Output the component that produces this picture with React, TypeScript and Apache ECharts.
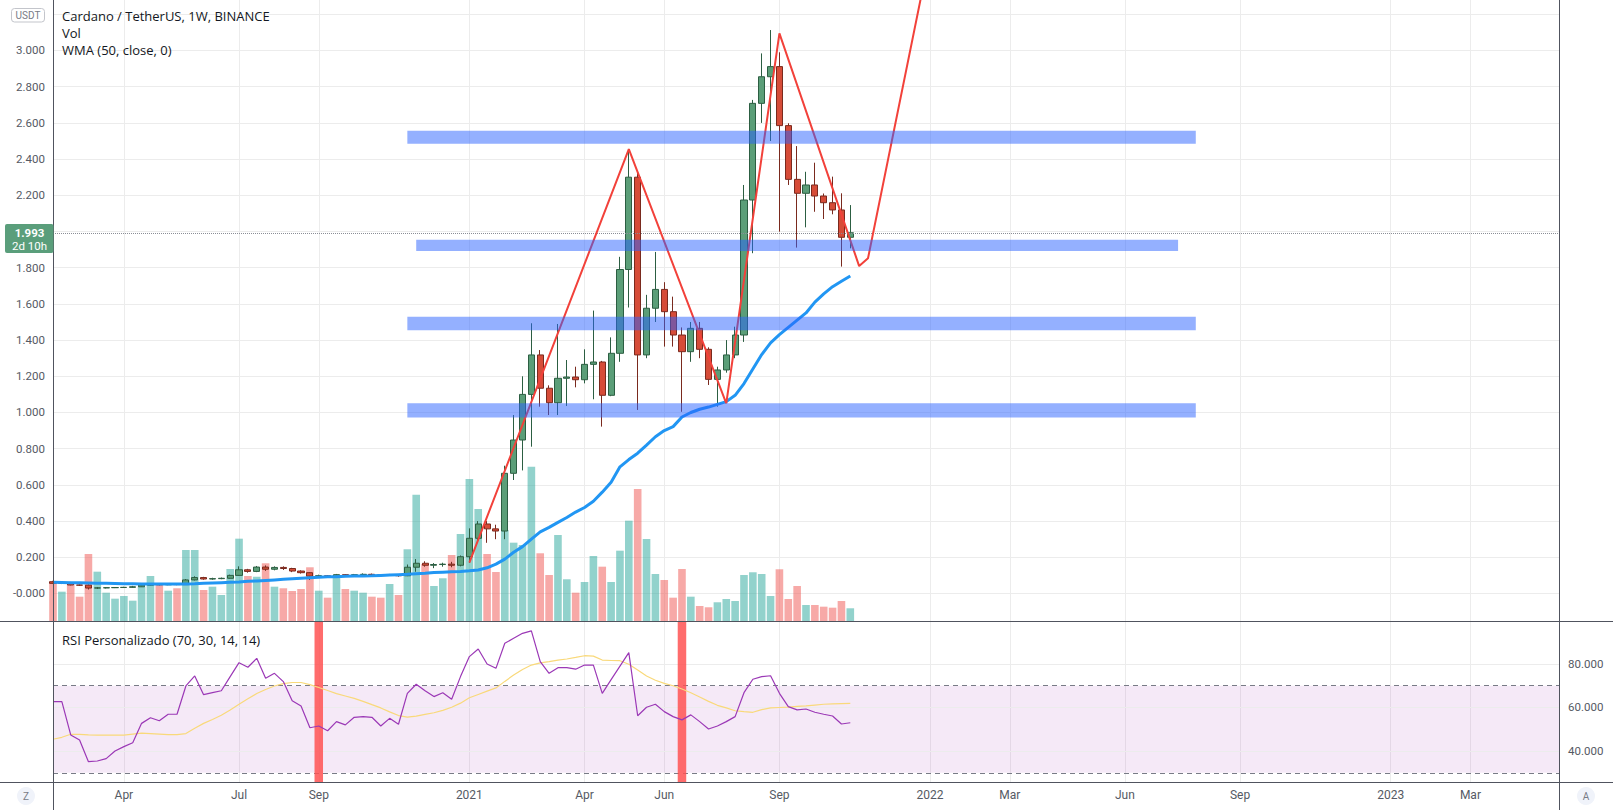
import React, { useEffect, useRef } from 'react';
import * as echarts from 'echarts';

// ---------- categories (weekly bars, Monday opens) ----------
const FIRST_WEEK_UTC = Date.UTC(2020, 1, 10);
const WEEK_COUNT = 171;
const weeks: string[] = [];
for (let i = 0; i < WEEK_COUNT; i++) {
  weeks.push(new Date(FIRST_WEEK_UTC + i * 7 * 86400000).toISOString().slice(0, 10));
}

// ---------- time axis ticks ----------
const timeTickDates = ['2020-04-06', '2020-07-06', '2020-09-07', '2021-01-04', '2021-04-05', '2021-06-07', '2021-09-06', '2022-01-03', '2022-03-07', '2022-06-06', '2022-09-05', '2023-01-02', '2023-03-06'];
const timeTickLabels = ['Apr', 'Jul', 'Sep', '2021', 'Apr', 'Jun', 'Sep', '2022', 'Mar', 'Jun', 'Sep', '2023', 'Mar'];

// ---------- price axis ticks ----------
const priceTicks = [0, 0.2, 0.4, 0.6, 0.8, 1.0, 1.2, 1.4, 1.6, 1.8, 2.0, 2.2, 2.4, 2.6, 2.8, 3.0, 3.2];
const priceTickLabels = ['-0.000', '0.200', '0.400', '0.600', '0.800', '1.000', '1.200', '1.400', '1.600', '1.800', '2.000', '2.200', '2.400', '2.600', '2.800', '3.000', ''];
const PRICE_MIN = -0.152;
const PRICE_MAX = 3.279;

// ---------- RSI axis ticks ----------
const rsiTicks = [40, 60, 80];
const rsiTickLabels = ['40.000', '60.000', '80.000'];
const rsiLevels = [70, 30];
const RSI_MIN = 25.75;
const RSI_MAX = 99.3;

// ---------- candles: [open, close, low, high] ----------
const ohlc: number[][] = [
  [0.065, 0.056, 0.054, 0.070], [0.056, 0.058, 0.052, 0.062], [0.060, 0.047, 0.045, 0.064], [0.047, 0.046, 0.042, 0.050],
  [0.046, 0.030, 0.022, 0.050], [0.030, 0.031, 0.025, 0.036], [0.031, 0.032, 0.028, 0.035], [0.032, 0.033, 0.030, 0.035],
  [0.033, 0.034, 0.031, 0.037], [0.034, 0.037, 0.032, 0.042], [0.037, 0.046, 0.036, 0.049], [0.046, 0.050, 0.044, 0.053],
  [0.050, 0.048, 0.045, 0.054], [0.048, 0.050, 0.046, 0.053], [0.050, 0.049, 0.046, 0.053], [0.049, 0.075, 0.048, 0.080],
  [0.075, 0.088, 0.072, 0.095], [0.088, 0.080, 0.076, 0.092], [0.080, 0.082, 0.076, 0.087], [0.082, 0.084, 0.079, 0.088],
  [0.084, 0.100, 0.082, 0.104], [0.100, 0.131, 0.098, 0.150], [0.131, 0.122, 0.115, 0.136], [0.122, 0.146, 0.118, 0.152],
  [0.146, 0.134, 0.125, 0.155], [0.134, 0.144, 0.128, 0.150], [0.144, 0.138, 0.130, 0.150], [0.138, 0.124, 0.118, 0.142],
  [0.124, 0.115, 0.110, 0.128], [0.115, 0.096, 0.075, 0.117], [0.096, 0.098, 0.085, 0.104], [0.098, 0.092, 0.088, 0.102],
  [0.092, 0.104, 0.090, 0.108], [0.104, 0.099, 0.094, 0.107], [0.099, 0.104, 0.097, 0.108], [0.104, 0.106, 0.100, 0.111],
  [0.106, 0.103, 0.099, 0.110], [0.103, 0.100, 0.094, 0.106], [0.100, 0.103, 0.097, 0.108], [0.103, 0.098, 0.093, 0.106],
  [0.098, 0.145, 0.096, 0.160], [0.145, 0.167, 0.120, 0.190], [0.167, 0.156, 0.148, 0.178], [0.156, 0.160, 0.140, 0.168],
  [0.160, 0.162, 0.148, 0.170], [0.162, 0.156, 0.145, 0.175], [0.156, 0.203, 0.150, 0.210], [0.203, 0.305, 0.170, 0.360],
  [0.305, 0.384, 0.280, 0.400], [0.384, 0.357, 0.280, 0.400], [0.357, 0.345, 0.300, 0.380], [0.345, 0.664, 0.300, 0.706],
  [0.664, 0.848, 0.627, 0.986], [0.848, 1.100, 0.680, 1.200], [1.100, 1.318, 0.811, 1.493], [1.318, 1.134, 1.032, 1.345],
  [1.134, 1.054, 0.986, 1.150], [1.054, 1.189, 0.986, 1.489], [1.189, 1.196, 1.036, 1.290], [1.196, 1.181, 1.139, 1.253],
  [1.181, 1.266, 1.161, 1.349], [1.266, 1.279, 1.073, 1.563], [1.279, 1.095, 0.922, 1.285], [1.095, 1.327, 1.090, 1.415],
  [1.327, 1.790, 1.280, 1.860], [1.790, 2.300, 1.580, 2.456], [2.300, 1.318, 1.014, 2.330], [1.318, 1.576, 1.300, 1.650],
  [1.576, 1.680, 1.500, 1.887], [1.680, 1.557, 1.364, 1.720], [1.557, 1.428, 1.364, 1.640], [1.428, 1.336, 1.004, 1.470],
  [1.336, 1.465, 1.280, 1.500], [1.465, 1.349, 1.300, 1.500], [1.349, 1.183, 1.152, 1.360], [1.183, 1.235, 1.032, 1.253],
  [1.235, 1.318, 1.220, 1.400], [1.318, 1.428, 1.300, 1.474], [1.428, 2.174, 1.390, 2.257], [2.174, 2.708, 1.880, 2.727],
  [2.708, 2.855, 2.600, 2.984], [2.855, 2.911, 2.500, 3.113], [2.911, 2.585, 1.999, 2.990], [2.585, 2.288, 2.257, 2.598],
  [2.288, 2.211, 1.911, 2.472], [2.211, 2.257, 2.023, 2.330], [2.257, 2.196, 2.109, 2.380], [2.196, 2.159, 2.069, 2.210],
  [2.159, 2.119, 2.095, 2.303], [2.119, 1.968, 1.806, 2.211], [1.968, 1.993, 1.907, 2.146],
];
const LAST_PRICE = 1.993;

// ---------- volume (millions) ----------
const volumes = [
  983, 733, 943, 608, 1675, 1233, 708, 558, 625, 508,
  858, 1125, 943, 758, 818, 1775, 1775, 775, 858, 650,
  1300, 2058, 1125, 1108, 1443, 858, 818, 750, 800, 1343,
  758, 583, 1150, 800, 758, 708, 608, 583, 925, 650,
  1793, 3155, 1425, 875, 1068, 1650, 2175, 3550, 2800, 1675,
  1225, 2275, 1958, 1900, 3858, 1693, 1150, 2150, 1043, 708,
  975, 1625, 1358, 975, 1758, 2508, 3300, 2050, 1175, 1025,
  583, 1300, 608, 375, 343, 468, 550, 500, 1150, 1218,
  1175, 625, 1293, 550, 875, 400, 400, 358, 333, 500,
  318,
];
const VOL_MAX = 15525;

// ---------- WMA(50) ----------
const wma = [
  0.062, 0.061, 0.060, 0.059, 0.058, 0.057, 0.056, 0.055, 0.054, 0.054,
  0.053, 0.053, 0.053, 0.052, 0.052, 0.053, 0.054, 0.056, 0.058, 0.060,
  0.062, 0.064, 0.067, 0.069, 0.072, 0.075, 0.078, 0.081, 0.084, 0.087,
  0.090, 0.092, 0.093, 0.095, 0.096, 0.097, 0.098, 0.100, 0.102, 0.104,
  0.106, 0.109, 0.112, 0.116, 0.118, 0.120, 0.122, 0.125, 0.130, 0.142,
  0.162, 0.190, 0.228, 0.259, 0.300, 0.340, 0.365, 0.393, 0.420, 0.450,
  0.475, 0.510, 0.560, 0.615, 0.700, 0.740, 0.775, 0.820, 0.866, 0.900,
  0.922, 0.975, 1.000, 1.018, 1.030, 1.045, 1.060, 1.095, 1.160, 1.240,
  1.320, 1.385, 1.430, 1.470, 1.510, 1.550, 1.610, 1.655, 1.695, 1.725,
  1.754,
];

// ---------- RSI ----------
const rsi = [
  62.7, 62.7, 47.4, 45.1, 35.1, 35.4, 36.5, 40.0, 42.0, 43.8,
  52.7, 55.3, 53.9, 56.9, 56.9, 69.9, 74.5, 65.9, 66.8, 67.7,
  74.2, 80.6, 78.5, 82.6, 73.4, 75.7, 71.9, 63.1, 60.7, 50.7,
  51.5, 49.3, 53.5, 52.0, 55.5, 55.8, 55.5, 51.5, 55.0, 52.3,
  66.5, 70.7, 67.7, 65.0, 66.8, 63.8, 74.2, 83.4, 86.9, 80.0,
  78.0, 89.5, 91.8, 94.1, 95.2, 81.1, 75.7, 78.3, 78.3, 77.6,
  79.5, 79.5, 66.5, 72.8, 79.0, 85.2, 56.2, 60.1, 61.5, 58.1,
  55.8, 54.3, 56.6, 53.5, 50.1, 51.5, 53.5, 55.8, 66.8, 73.0,
  74.2, 74.6, 66.5, 60.4, 58.9, 59.3, 57.8, 56.9, 56.1, 52.4,
  53.0,
];
const rsiSignal = [
  45.4, 46.3, 47.7, 47.6, 47.4, 47.3, 47.3, 47.3, 47.3, 47.8,
  48.2, 48.0, 47.8, 47.5, 47.5, 48.0, 50.5, 52.7, 54.5, 56.4,
  58.8, 61.5, 64.0, 66.4, 68.3, 69.9, 71.0, 71.5, 71.5, 70.5,
  69.2, 67.8, 66.4, 65.3, 64.2, 62.8, 61.3, 59.8, 58.0, 56.3,
  55.6, 56.0, 56.8, 57.6, 58.7, 60.1, 62.0, 64.5, 66.0, 67.5,
  69.0, 72.0, 74.9, 77.5, 79.5, 80.5, 81.1, 81.8, 82.3, 83.0,
  83.8, 83.6, 81.8, 81.6, 81.5, 79.9, 77.2, 74.5, 72.5, 71.1,
  70.0, 68.5, 66.8, 64.8, 62.8, 61.0, 59.8, 58.5, 58.1, 57.8,
  59.0, 59.8, 60.0, 60.2, 60.5, 60.7, 61.1, 61.5, 61.7, 61.8,
  61.9,
];
const rsiAlertWeeks = [30, 71];

// ---------- drawings ----------
const patternWeeks = [47, 65, 76, 82, 91, 92, 99];
const patternPrices = [0.17, 2.455, 1.05, 3.095, 1.809, 1.852, 3.54];
const zoneFromWeek = [40, 41, 40, 40];
const zoneToWeek = [129, 127, 129, 129];
const zoneLow = [2.485, 1.892, 1.455, 0.972];
const zoneHigh = [2.557, 1.955, 1.529, 1.051];

// ---------- styles ----------
const GRID_COLOR = '#ececec';
const AXIS_TEXT = '#555a64';
const FRAME = '#50535e';
const UP = '#5b9e78';
const UP_BORDER = '#2c5e42';
const DOWN = '#d64c38';
const DOWN_BORDER = '#7a2a1e';
const VOL_UP = 'rgba(38,166,154,0.5)';
const VOL_DOWN = 'rgba(239,83,80,0.5)';
const FONT = 'Roboto, "Open Sans", sans-serif';
const LEGEND_FONT = '"Open Sans", Roboto, sans-serif';

const GRID_LEFT = 53;
const GRID_WIDTH = 1506;

function buildOption() {
  const tickSet = new Set(timeTickDates);
  const isTick = (_i: number, v: string) => tickSet.has(v);
  const labelFor = (v: string) => {
    const k = timeTickDates.indexOf(v);
    return k >= 0 ? timeTickLabels[k] : '';
  };

  const volData = volumes.map((v, i) => ({
    value: v,
    itemStyle: { color: ohlc[i][1] >= ohlc[i][0] ? VOL_UP : VOL_DOWN },
  }));

  const alertData = weeks.map((_, i) => (rsiAlertWeeks.includes(i) ? RSI_MAX : '-'));

  const pattern = patternWeeks.map((w, k) => [weeks[w], patternPrices[k]]);

  const zones = zoneLow.map((lo, k) => [
    { xAxis: weeks[zoneFromWeek[k]], yAxis: zoneHigh[k] },
    { xAxis: weeks[zoneToWeek[k]], yAxis: lo },
  ]);

  const catAxisBase = {
    type: 'category',
    data: weeks,
    boundaryGap: false,
    axisLine: { show: false },
    axisTick: { show: false },
  };

  return {
    animation: false,
    backgroundColor: '#ffffff',
    textStyle: { fontFamily: FONT },
    grid: [
      { left: GRID_LEFT, width: GRID_WIDTH, top: 0, height: 621 },
      { left: GRID_LEFT, width: GRID_WIDTH, top: 622, height: 160 },
      { left: GRID_LEFT, width: GRID_WIDTH, top: 0, height: 621 },
    ],
    xAxis: [
      {
        ...catAxisBase,
        gridIndex: 0,
        axisLabel: { show: false },
        splitLine: { show: true, interval: isTick, lineStyle: { color: GRID_COLOR, width: 1 } },
      },
      {
        ...catAxisBase,
        gridIndex: 1,
        axisLabel: {
          show: true,
          interval: isTick,
          formatter: (v: string) => labelFor(v),
          color: AXIS_TEXT,
          fontSize: 12,
          fontFamily: FONT,
          margin: 7,
        },
        splitLine: { show: true, interval: isTick, lineStyle: { color: GRID_COLOR, width: 1 } },
      },
      { ...catAxisBase, gridIndex: 2, show: false },
    ],
    yAxis: [
      { type: 'value', gridIndex: 0, min: PRICE_MIN, max: PRICE_MAX, show: false },
      { type: 'value', gridIndex: 1, min: RSI_MIN, max: RSI_MAX, show: false },
      { type: 'value', gridIndex: 2, min: 0, max: VOL_MAX, show: false },
    ],
    series: [
      // price gridlines + left labels
      {
        type: 'line',
        xAxisIndex: 0,
        yAxisIndex: 0,
        data: [],
        z: 0,
        silent: true,
        markLine: {
          z: 0,
          silent: true,
          symbol: ['none', 'none'],
          animation: false,
          lineStyle: { color: GRID_COLOR, type: 'solid', width: 1 },
          label: {
            show: true,
            position: 'start',
            distance: 8,
            formatter: (p: any) => p.name,
            color: AXIS_TEXT,
            fontSize: 11.5,
            fontFamily: FONT,
          },
          emphasis: { disabled: true },
          data: priceTicks.map((v, k) => ({ yAxis: v, name: priceTickLabels[k] })),
        },
      },
      // RSI gridlines, levels, band
      {
        type: 'line',
        xAxisIndex: 1,
        yAxisIndex: 1,
        data: [],
        z: 0,
        silent: true,
        markArea: {
          z: 0,
          silent: true,
          itemStyle: { color: 'rgba(156,39,176,0.1)' },
          data: [[{ yAxis: rsiLevels[1] }, { yAxis: rsiLevels[0] }]],
        },
        markLine: {
          z: 1,
          silent: true,
          symbol: ['none', 'none'],
          animation: false,
          lineStyle: { color: GRID_COLOR, type: 'solid', width: 1 },
          label: {
            show: true,
            position: 'end',
            distance: 9,
            formatter: (p: any) => p.name,
            color: AXIS_TEXT,
            fontSize: 11.5,
            fontFamily: FONT,
          },
          emphasis: { disabled: true },
          data: [
            ...rsiTicks.map((v, k) => ({ yAxis: v, name: rsiTickLabels[k] })),
            ...rsiLevels.map((v) => ({
              yAxis: v,
              name: '',
              label: { show: false },
              lineStyle: { color: '#787b86', type: [5, 4], width: 1 },
            })),
          ],
        },
      },
      // volume
      {
        type: 'bar',
        name: 'Vol',
        xAxisIndex: 2,
        yAxisIndex: 2,
        data: volData,
        barWidth: 7.6,
        z: 1,
        silent: true,
      },
      // candles
      {
        type: 'candlestick',
        xAxisIndex: 0,
        yAxisIndex: 0,
        data: ohlc,
        barWidth: 6.6,
        z: 2,
        itemStyle: { color: UP, color0: DOWN, borderColor: UP_BORDER, borderColor0: DOWN_BORDER, borderWidth: 1 },
        markLine: {
          z: 3,
          silent: true,
          symbol: ['none', 'none'],
          animation: false,
          label: { show: false },
          lineStyle: { color: '#8a8d96', type: 'dotted', width: 1 },
          data: [{ yAxis: LAST_PRICE }],
        },
      },
      // WMA
      {
        type: 'line',
        name: 'WMA',
        xAxisIndex: 0,
        yAxisIndex: 0,
        data: wma,
        showSymbol: false,
        z: 3,
        lineStyle: { color: '#2196f3', width: 3 },
        silent: true,
      },
      // red pattern drawing
      {
        type: 'line',
        xAxisIndex: 0,
        yAxisIndex: 0,
        data: pattern,
        showSymbol: false,
        z: 4,
        lineStyle: { color: '#f2413a', width: 2 },
        silent: true,
      },
      // blue zones
      {
        type: 'line',
        xAxisIndex: 0,
        yAxisIndex: 0,
        data: [],
        z: 5,
        silent: true,
        markArea: {
          z: 6,
          silent: true,
          itemStyle: { color: 'rgba(41,98,255,0.5)' },
          data: zones,
        },
      },
      // RSI alert bars
      {
        type: 'bar',
        xAxisIndex: 1,
        yAxisIndex: 1,
        data: alertData,
        barWidth: 8.5,
        z: 2,
        silent: true,
        itemStyle: { color: 'rgba(255,82,82,0.85)' },
      },
      // RSI signal
      {
        type: 'line',
        xAxisIndex: 1,
        yAxisIndex: 1,
        data: rsiSignal,
        showSymbol: false,
        z: 3,
        lineStyle: { color: '#f9d97a', width: 1.2 },
        silent: true,
      },
      // RSI
      {
        type: 'line',
        xAxisIndex: 1,
        yAxisIndex: 1,
        data: rsi,
        showSymbol: false,
        z: 4,
        lineStyle: { color: '#9b38b6', width: 1.2 },
        silent: true,
      },
    ],
    graphic: [
      { type: 'line', silent: true, z: 50, shape: { x1: 53.5, y1: 0, x2: 53.5, y2: 810 }, style: { stroke: FRAME, lineWidth: 1 } },
      { type: 'line', silent: true, z: 50, shape: { x1: 1559.5, y1: 0, x2: 1559.5, y2: 810 }, style: { stroke: FRAME, lineWidth: 1 } },
      { type: 'line', silent: true, z: 50, shape: { x1: 0, y1: 621.5, x2: 1613, y2: 621.5 }, style: { stroke: FRAME, lineWidth: 1 } },
      { type: 'line', silent: true, z: 50, shape: { x1: 0, y1: 782.5, x2: 1613, y2: 782.5 }, style: { stroke: FRAME, lineWidth: 1 } },
      // USDT tag
      { type: 'rect', silent: true, z: 60, shape: { x: 11.5, y: 8.5, width: 33, height: 13.5, r: 3 }, style: { fill: '#ffffff', stroke: '#c3c5cb', lineWidth: 1 } },
      { type: 'text', silent: true, z: 61, x: 28, y: 15.5, style: { text: 'USDT', fill: '#787b86', fontSize: 10, fontFamily: FONT, align: 'center', verticalAlign: 'middle' } },
      // last price tag
      { type: 'rect', silent: true, z: 60, shape: { x: 5, y: 224, width: 48.5, height: 29, r: 2 }, style: { fill: '#5a9e7b' } },
      { type: 'text', silent: true, z: 61, x: 29.5, y: 232.5, style: { text: '1.993', fill: '#ffffff', fontSize: 11.5, fontWeight: 'bold', fontFamily: FONT, align: 'center', verticalAlign: 'middle' } },
      { type: 'text', silent: true, z: 61, x: 29.5, y: 245.5, style: { text: '2d 10h', fill: '#ffffff', fontSize: 11.5, fontFamily: FONT, align: 'center', verticalAlign: 'middle' } },
      // legends
      { type: 'text', silent: true, z: 61, x: 62, y: 16, style: { text: 'Cardano / TetherUS, 1W, BINANCE', fill: '#131722', fontSize: 13, fontFamily: LEGEND_FONT, verticalAlign: 'middle' } },
      { type: 'text', silent: true, z: 61, x: 62, y: 33, style: { text: 'Vol', fill: '#131722', fontSize: 13, fontFamily: LEGEND_FONT, verticalAlign: 'middle' } },
      { type: 'text', silent: true, z: 61, x: 62, y: 50, style: { text: 'WMA (50, close, 0)', fill: '#131722', fontSize: 13, fontFamily: LEGEND_FONT, verticalAlign: 'middle' } },
      { type: 'text', silent: true, z: 61, x: 62, y: 640, style: { text: 'RSI Personalizado (70, 30, 14, 14)', fill: '#131722', fontSize: 13, fontFamily: LEGEND_FONT, verticalAlign: 'middle' } },
      // corner buttons
      { type: 'circle', silent: true, z: 60, shape: { cx: 26, cy: 796, r: 9 }, style: { fill: '#f0f3fa' } },
      { type: 'text', silent: true, z: 61, x: 26, y: 796, style: { text: 'Z', fill: '#787b86', fontSize: 10, fontFamily: FONT, align: 'center', verticalAlign: 'middle' } },
      { type: 'circle', silent: true, z: 60, shape: { cx: 1586, cy: 796, r: 9 }, style: { fill: '#f0f3fa' } },
      { type: 'text', silent: true, z: 61, x: 1586, y: 796, style: { text: 'A', fill: '#787b86', fontSize: 10, fontFamily: FONT, align: 'center', verticalAlign: 'middle' } },
    ],
  };
}

export default function App() {
  const ref = useRef<HTMLDivElement>(null);
  useEffect(() => {
    document.body.style.margin = '0';
    if (!ref.current) return;
    const chart = echarts.init(ref.current, null, { renderer: 'svg' });
    chart.setOption(buildOption() as any);
    return () => chart.dispose();
  }, []);
  return (
    <div
      ref={ref}
      style={{ position: 'absolute', left: 0, top: 0, width: 1613, height: 810, background: '#ffffff' }}
    />
  );
}
